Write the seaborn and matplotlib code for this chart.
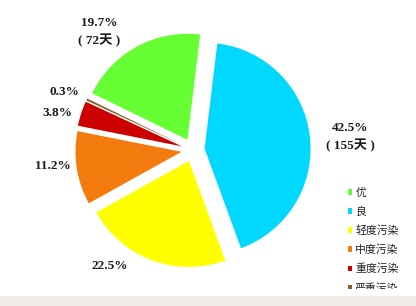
import matplotlib
matplotlib.use("Agg")
import matplotlib.pyplot as plt
import seaborn as sns
from matplotlib.patches import Patch, Rectangle

sns.set_theme(style="white")
plt.rcParams['font.family'] = ['Noto Sans CJK SC', 'DejaVu Sans']

categories = ["优", "良", "轻度污染", "中度污染", "重度污染", "严重污染"]
shares = [19.7, 42.5, 22.5, 11.2, 3.8, 0.3]
days = [72, 155, None, None, None, None]
colors = ["#66ff33", "#00d8ff", "#ffff00", "#f47b0d", "#cc0000", "#8b5a2b"]

# label positions (data units, radius = 1)
label_pos = [(-0.887, 1.11), (1.481, 0.12), (-0.783, -1.094),
             (-1.321, -0.151), (-1.283, 0.349), (-1.217, 0.547)]

W, H = 416, 306
fig = plt.figure(figsize=(W / 100, H / 100), dpi=100)
fig.patch.set_facecolor("white")
ax = fig.add_axes([0, 0, 1, 1])

cx, cy, R = 193, 150, 106
ax.pie(shares, colors=colors, startangle=154, counterclock=False,
       explode=[0.11] * len(shares), radius=1.0,
       wedgeprops=dict(linewidth=0))
ax.set_xlim(-cx / R, (W - cx) / R)
ax.set_ylim(-(H - cy) / R, cy / R)
ax.set_aspect("equal")
ax.axis("off")

lab_font = ['Liberation Serif', 'Noto Sans CJK SC']
for share, d, (x, y) in zip(shares, days, label_pos):
    txt = f"{share}%"
    if d is not None:
        txt += f"\n( {d}天 )"
    ax.text(x, y, txt, ha="center", va="center", fontsize=9.5,
            fontweight="bold", family=lab_font, color="#1a1a1a",
            linespacing=1.45)

handles = [Patch(facecolor=c, edgecolor="none") for c in colors]
leg = ax.legend(handles, categories, loc="upper left",
                bbox_to_anchor=(340 / W, 1 - 180 / H),
                bbox_transform=fig.transFigure, frameon=False,
                fontsize=7.8, handlelength=0.45, handleheight=0.45,
                handletextpad=0.25, labelspacing=0.8, borderpad=0.2)
for t in leg.get_texts():
    t.set_color("#222222")

# white strip clipping the last legend entry, then grey band at the bottom
fig.patches.append(Rectangle((330 / W, 10 / H), 86 / W, 7 / H,
                             transform=fig.transFigure, facecolor="white",
                             edgecolor="none", zorder=10))
fig.patches.append(Rectangle((0, 0), 1, 10 / H, transform=fig.transFigure,
                             facecolor="#efece9", edgecolor="none", zorder=11))

fig.savefig("out.png", dpi=100)
